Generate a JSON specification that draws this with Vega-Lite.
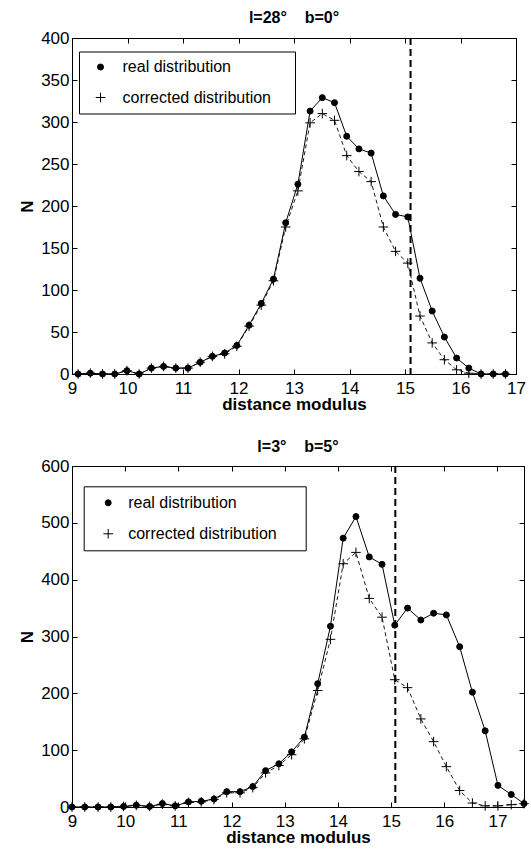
{
  "$schema": "https://vega.github.io/schema/vega-lite/v6.json",
  "background": "white",
  "padding": {"left": 18, "top": 9, "right": 5, "bottom": 1},
  "config": {
    "font": "Liberation Sans",
    "view": {"stroke": "black", "strokeWidth": 1},
    "axis": {"grid": false, "domainColor": "black", "domainWidth": 1, "tickColor": "black", "tickSize": -5, "labelColor": "black", "titleColor": "black", "labelFont": "Liberation Sans", "labelFontSize": 17, "titleFont": "Liberation Sans", "titleFontSize": 17, "titleFontWeight": "bold"},
    "title": {"font": "Liberation Sans", "fontSize": 16, "fontWeight": "bold", "color": "black"},
    "legend": {"titleFontSize": 10, "titleColor": "white"}
  },
  "datasets": {
    "top": [
      {"x": 9.11, "n": 0, "series": "real distribution"},
      {"x": 9.33, "n": 1, "series": "real distribution"},
      {"x": 9.55, "n": 0, "series": "real distribution"},
      {"x": 9.77, "n": 0, "series": "real distribution"},
      {"x": 9.99, "n": 4, "series": "real distribution"},
      {"x": 10.21, "n": 0, "series": "real distribution"},
      {"x": 10.43, "n": 7, "series": "real distribution"},
      {"x": 10.65, "n": 9, "series": "real distribution"},
      {"x": 10.87, "n": 7, "series": "real distribution"},
      {"x": 11.09, "n": 7, "series": "real distribution"},
      {"x": 11.31, "n": 14, "series": "real distribution"},
      {"x": 11.53, "n": 21, "series": "real distribution"},
      {"x": 11.75, "n": 25, "series": "real distribution"},
      {"x": 11.97, "n": 34, "series": "real distribution"},
      {"x": 12.19, "n": 58, "series": "real distribution"},
      {"x": 12.41, "n": 84, "series": "real distribution"},
      {"x": 12.63, "n": 113, "series": "real distribution"},
      {"x": 12.85, "n": 180, "series": "real distribution"},
      {"x": 13.07, "n": 226, "series": "real distribution"},
      {"x": 13.29, "n": 313, "series": "real distribution"},
      {"x": 13.51, "n": 329, "series": "real distribution"},
      {"x": 13.73, "n": 323, "series": "real distribution"},
      {"x": 13.95, "n": 283, "series": "real distribution"},
      {"x": 14.17, "n": 268, "series": "real distribution"},
      {"x": 14.39, "n": 263, "series": "real distribution"},
      {"x": 14.61, "n": 212, "series": "real distribution"},
      {"x": 14.83, "n": 190, "series": "real distribution"},
      {"x": 15.05, "n": 187, "series": "real distribution"},
      {"x": 15.27, "n": 114, "series": "real distribution"},
      {"x": 15.49, "n": 75, "series": "real distribution"},
      {"x": 15.71, "n": 44, "series": "real distribution"},
      {"x": 15.93, "n": 19, "series": "real distribution"},
      {"x": 16.15, "n": 7, "series": "real distribution"},
      {"x": 16.37, "n": 0, "series": "real distribution"},
      {"x": 16.59, "n": 0, "series": "real distribution"},
      {"x": 16.81, "n": 0, "series": "real distribution"},
      {"x": 9.11, "n": 0, "series": "corrected distribution"},
      {"x": 9.33, "n": 1, "series": "corrected distribution"},
      {"x": 9.55, "n": 0, "series": "corrected distribution"},
      {"x": 9.77, "n": 0, "series": "corrected distribution"},
      {"x": 9.99, "n": 4, "series": "corrected distribution"},
      {"x": 10.21, "n": 0, "series": "corrected distribution"},
      {"x": 10.43, "n": 7, "series": "corrected distribution"},
      {"x": 10.65, "n": 9, "series": "corrected distribution"},
      {"x": 10.87, "n": 7, "series": "corrected distribution"},
      {"x": 11.09, "n": 7, "series": "corrected distribution"},
      {"x": 11.31, "n": 14, "series": "corrected distribution"},
      {"x": 11.53, "n": 21, "series": "corrected distribution"},
      {"x": 11.75, "n": 24, "series": "corrected distribution"},
      {"x": 11.97, "n": 33, "series": "corrected distribution"},
      {"x": 12.19, "n": 57, "series": "corrected distribution"},
      {"x": 12.41, "n": 82, "series": "corrected distribution"},
      {"x": 12.63, "n": 111, "series": "corrected distribution"},
      {"x": 12.85, "n": 175, "series": "corrected distribution"},
      {"x": 13.07, "n": 218, "series": "corrected distribution"},
      {"x": 13.29, "n": 299, "series": "corrected distribution"},
      {"x": 13.51, "n": 310, "series": "corrected distribution"},
      {"x": 13.73, "n": 302, "series": "corrected distribution"},
      {"x": 13.95, "n": 260, "series": "corrected distribution"},
      {"x": 14.17, "n": 241, "series": "corrected distribution"},
      {"x": 14.39, "n": 229, "series": "corrected distribution"},
      {"x": 14.61, "n": 175, "series": "corrected distribution"},
      {"x": 14.83, "n": 146, "series": "corrected distribution"},
      {"x": 15.05, "n": 132, "series": "corrected distribution"},
      {"x": 15.27, "n": 69, "series": "corrected distribution"},
      {"x": 15.49, "n": 37, "series": "corrected distribution"},
      {"x": 15.71, "n": 17, "series": "corrected distribution"},
      {"x": 15.93, "n": 5, "series": "corrected distribution"},
      {"x": 16.15, "n": 1, "series": "corrected distribution"},
      {"x": 16.37, "n": 0, "series": "corrected distribution"},
      {"x": 16.59, "n": 0, "series": "corrected distribution"},
      {"x": 16.81, "n": 0, "series": "corrected distribution"}
    ],
    "bottom": [
      {"x": 9.00, "n": 0, "series": "real distribution"},
      {"x": 9.24, "n": 0, "series": "real distribution"},
      {"x": 9.49, "n": 0, "series": "real distribution"},
      {"x": 9.73, "n": 0, "series": "real distribution"},
      {"x": 9.97, "n": 1, "series": "real distribution"},
      {"x": 10.21, "n": 3, "series": "real distribution"},
      {"x": 10.46, "n": 1, "series": "real distribution"},
      {"x": 10.70, "n": 6, "series": "real distribution"},
      {"x": 10.94, "n": 2, "series": "real distribution"},
      {"x": 11.19, "n": 9, "series": "real distribution"},
      {"x": 11.43, "n": 10, "series": "real distribution"},
      {"x": 11.67, "n": 14, "series": "real distribution"},
      {"x": 11.91, "n": 27, "series": "real distribution"},
      {"x": 12.16, "n": 27, "series": "real distribution"},
      {"x": 12.40, "n": 36, "series": "real distribution"},
      {"x": 12.64, "n": 64, "series": "real distribution"},
      {"x": 12.89, "n": 76, "series": "real distribution"},
      {"x": 13.13, "n": 97, "series": "real distribution"},
      {"x": 13.37, "n": 123, "series": "real distribution"},
      {"x": 13.62, "n": 217, "series": "real distribution"},
      {"x": 13.86, "n": 318, "series": "real distribution"},
      {"x": 14.10, "n": 473, "series": "real distribution"},
      {"x": 14.34, "n": 511, "series": "real distribution"},
      {"x": 14.59, "n": 440, "series": "real distribution"},
      {"x": 14.83, "n": 427, "series": "real distribution"},
      {"x": 15.07, "n": 320, "series": "real distribution"},
      {"x": 15.31, "n": 350, "series": "real distribution"},
      {"x": 15.56, "n": 329, "series": "real distribution"},
      {"x": 15.80, "n": 341, "series": "real distribution"},
      {"x": 16.04, "n": 338, "series": "real distribution"},
      {"x": 16.29, "n": 282, "series": "real distribution"},
      {"x": 16.53, "n": 202, "series": "real distribution"},
      {"x": 16.77, "n": 134, "series": "real distribution"},
      {"x": 17.01, "n": 38, "series": "real distribution"},
      {"x": 17.26, "n": 22, "series": "real distribution"},
      {"x": 17.50, "n": 6, "series": "real distribution"},
      {"x": 9.00, "n": 0, "series": "corrected distribution"},
      {"x": 9.24, "n": 0, "series": "corrected distribution"},
      {"x": 9.49, "n": 0, "series": "corrected distribution"},
      {"x": 9.73, "n": 0, "series": "corrected distribution"},
      {"x": 9.97, "n": 1, "series": "corrected distribution"},
      {"x": 10.21, "n": 3, "series": "corrected distribution"},
      {"x": 10.46, "n": 1, "series": "corrected distribution"},
      {"x": 10.70, "n": 5, "series": "corrected distribution"},
      {"x": 10.94, "n": 2, "series": "corrected distribution"},
      {"x": 11.19, "n": 8, "series": "corrected distribution"},
      {"x": 11.43, "n": 9, "series": "corrected distribution"},
      {"x": 11.67, "n": 13, "series": "corrected distribution"},
      {"x": 11.91, "n": 25, "series": "corrected distribution"},
      {"x": 12.16, "n": 25, "series": "corrected distribution"},
      {"x": 12.40, "n": 34, "series": "corrected distribution"},
      {"x": 12.64, "n": 60, "series": "corrected distribution"},
      {"x": 12.89, "n": 73, "series": "corrected distribution"},
      {"x": 13.13, "n": 92, "series": "corrected distribution"},
      {"x": 13.37, "n": 120, "series": "corrected distribution"},
      {"x": 13.62, "n": 205, "series": "corrected distribution"},
      {"x": 13.86, "n": 295, "series": "corrected distribution"},
      {"x": 14.10, "n": 428, "series": "corrected distribution"},
      {"x": 14.34, "n": 448, "series": "corrected distribution"},
      {"x": 14.59, "n": 367, "series": "corrected distribution"},
      {"x": 14.83, "n": 334, "series": "corrected distribution"},
      {"x": 15.07, "n": 224, "series": "corrected distribution"},
      {"x": 15.31, "n": 210, "series": "corrected distribution"},
      {"x": 15.56, "n": 155, "series": "corrected distribution"},
      {"x": 15.80, "n": 115, "series": "corrected distribution"},
      {"x": 16.04, "n": 71, "series": "corrected distribution"},
      {"x": 16.29, "n": 29, "series": "corrected distribution"},
      {"x": 16.53, "n": 7, "series": "corrected distribution"},
      {"x": 16.77, "n": 2, "series": "corrected distribution"},
      {"x": 17.01, "n": 2, "series": "corrected distribution"},
      {"x": 17.26, "n": 4, "series": "corrected distribution"},
      {"x": 17.50, "n": 6, "series": "corrected distribution"}
    ]
  },
  "spacing": 25,
  "resolve": {"scale": {"shape": "independent", "fill": "independent", "stroke": "independent", "x": "independent", "y": "independent"}, "legend": {"shape": "independent", "fill": "independent", "stroke": "independent"}},
  "vconcat": [
    {
      "title": {"text": "l=28°\u00a0\u00a0\u00a0\u00a0b=0°", "offset": 3},
      "width": 444,
      "height": 336,
      "data": {"name": "top"},
      "resolve": {"axis": {"x": "independent", "y": "independent"}},
      "layer": [
        {
          "transform": [{"filter": "datum.series == 'real distribution'"}],
          "mark": {"type": "line", "color": "black", "strokeWidth": 1},
          "encoding": {
            "x": {"field": "x", "type": "quantitative", "scale": {"domain": [9, 17], "nice": false, "zero": false}, "axis": {"orient": "bottom", "title": "distance modulus", "values": [9, 10, 11, 12, 13, 14, 15, 16, 17], "labelPadding": 11.5, "titlePadding": 0, "labelFlush": false}},
            "y": {"field": "n", "type": "quantitative", "scale": {"domain": [0, 400], "nice": false}, "axis": {"orient": "left", "title": "N", "values": [0, 50, 100, 150, 200, 250, 300, 350, 400], "labelPadding": 8, "titlePadding": 4, "labelFlush": false}}
          }
        },
        {
          "transform": [{"filter": "datum.series == 'corrected distribution'"}],
          "mark": {"type": "line", "color": "black", "strokeWidth": 0.9, "strokeDash": [4, 3]},
          "encoding": {
            "x": {"field": "x", "type": "quantitative", "axis": {"orient": "top", "title": null, "labels": false, "values": [9, 10, 11, 12, 13, 14, 15, 16, 17]}},
            "y": {"field": "n", "type": "quantitative", "axis": {"orient": "right", "title": null, "labels": false, "values": [0, 50, 100, 150, 200, 250, 300, 350, 400]}}
          }
        },
        {
          "data": {"values": [{"m": 15.1}]},
          "mark": {"type": "rule", "color": "black", "strokeWidth": 2, "strokeDash": [7, 4]},
          "encoding": {"x": {"field": "m", "type": "quantitative", "axis": null}}
        },
        {
          "mark": {"type": "point", "filled": true, "strokeWidth": 1, "opacity": 1, "size": 36},
          "encoding": {
            "x": {"field": "x", "type": "quantitative", "axis": null},
            "y": {"field": "n", "type": "quantitative", "axis": null},
            "shape": {"field": "series", "type": "nominal", "scale": {"domain": ["real distribution", "corrected distribution"], "range": ["circle", "M-1.6,0L1.6,0M0,-1.6L0,1.6"]},
              "legend": {"title": "\u00a0", "titleOrient": "right", "titlePadding": 16, "orient": "none", "legendX": 7, "legendY": 13.5, "strokeColor": "black", "fillColor": "white", "padding": 7.5, "symbolOffset": 6, "labelOffset": 14, "rowPadding": 14.5, "symbolStrokeWidth": 1, "symbolSize": 36, "labelFont": "Liberation Sans", "labelFontSize": 16, "labelColor": "black"}},
            "fill": {"field": "series", "type": "nominal", "scale": {"domain": ["real distribution", "corrected distribution"], "range": ["black", "transparent"]},
              "legend": {"title": "\u00a0", "titleOrient": "right", "titlePadding": 16, "orient": "none", "legendX": 7, "legendY": 13.5, "strokeColor": "black", "fillColor": "white", "padding": 7.5, "symbolOffset": 6, "labelOffset": 14, "rowPadding": 14.5, "symbolStrokeWidth": 1, "symbolSize": 36, "labelFont": "Liberation Sans", "labelFontSize": 16, "labelColor": "black"}},
            "stroke": {"field": "series", "type": "nominal", "scale": {"domain": ["real distribution", "corrected distribution"], "range": ["black", "black"]},
              "legend": {"title": "\u00a0", "titleOrient": "right", "titlePadding": 16, "orient": "none", "legendX": 7, "legendY": 13.5, "strokeColor": "black", "fillColor": "white", "padding": 7.5, "symbolOffset": 6, "labelOffset": 14, "rowPadding": 14.5, "symbolStrokeWidth": 1, "symbolSize": 36, "labelFont": "Liberation Sans", "labelFontSize": 16, "labelColor": "black"}}
          }
        }
      ]
    },
    {
      "title": {"text": "l=3°\u00a0\u00a0\u00a0\u00a0b=5°", "offset": 2},
      "width": 452,
      "height": 341,
      "data": {"name": "bottom"},
      "resolve": {"axis": {"x": "independent", "y": "independent"}},
      "layer": [
        {
          "transform": [{"filter": "datum.series == 'real distribution'"}],
          "mark": {"type": "line", "color": "black", "strokeWidth": 1},
          "encoding": {
            "x": {"field": "x", "type": "quantitative", "scale": {"domain": [9, 17.5], "nice": false, "zero": false}, "axis": {"orient": "bottom", "title": "distance modulus", "values": [9, 10, 11, 12, 13, 14, 15, 16, 17], "labelPadding": 11.5, "titlePadding": 0, "labelFlush": false}},
            "y": {"field": "n", "type": "quantitative", "scale": {"domain": [0, 600], "nice": false}, "axis": {"orient": "left", "title": "N", "values": [0, 100, 200, 300, 400, 500, 600], "labelPadding": 8, "titlePadding": 4, "labelFlush": false}}
          }
        },
        {
          "transform": [{"filter": "datum.series == 'corrected distribution'"}],
          "mark": {"type": "line", "color": "black", "strokeWidth": 0.9, "strokeDash": [4, 3]},
          "encoding": {
            "x": {"field": "x", "type": "quantitative", "axis": {"orient": "top", "title": null, "labels": false, "values": [9, 10, 11, 12, 13, 14, 15, 16, 17]}},
            "y": {"field": "n", "type": "quantitative", "axis": {"orient": "right", "title": null, "labels": false, "values": [0, 100, 200, 300, 400, 500, 600]}}
          }
        },
        {
          "data": {"values": [{"m": 15.08}]},
          "mark": {"type": "rule", "color": "black", "strokeWidth": 2, "strokeDash": [7, 4]},
          "encoding": {"x": {"field": "m", "type": "quantitative", "axis": null}}
        },
        {
          "mark": {"type": "point", "filled": true, "strokeWidth": 1, "opacity": 1, "size": 36},
          "encoding": {
            "x": {"field": "x", "type": "quantitative", "axis": null},
            "y": {"field": "n", "type": "quantitative", "axis": null},
            "shape": {"field": "series", "type": "nominal", "scale": {"domain": ["real distribution", "corrected distribution"], "range": ["circle", "M-1.6,0L1.6,0M0,-1.6L0,1.6"]},
              "legend": {"title": "\u00a0", "titleOrient": "right", "titlePadding": 20, "orient": "none", "legendX": 11.7, "legendY": 20.3, "strokeColor": "black", "fillColor": "white", "padding": 8.5, "symbolOffset": 8, "labelOffset": 12, "rowPadding": 15, "symbolStrokeWidth": 1, "symbolSize": 36, "labelFont": "Liberation Sans", "labelFontSize": 16, "labelColor": "black"}},
            "fill": {"field": "series", "type": "nominal", "scale": {"domain": ["real distribution", "corrected distribution"], "range": ["black", "transparent"]},
              "legend": {"title": "\u00a0", "titleOrient": "right", "titlePadding": 20, "orient": "none", "legendX": 11.7, "legendY": 20.3, "strokeColor": "black", "fillColor": "white", "padding": 8.5, "symbolOffset": 8, "labelOffset": 12, "rowPadding": 15, "symbolStrokeWidth": 1, "symbolSize": 36, "labelFont": "Liberation Sans", "labelFontSize": 16, "labelColor": "black"}},
            "stroke": {"field": "series", "type": "nominal", "scale": {"domain": ["real distribution", "corrected distribution"], "range": ["black", "black"]},
              "legend": {"title": "\u00a0", "titleOrient": "right", "titlePadding": 20, "orient": "none", "legendX": 11.7, "legendY": 20.3, "strokeColor": "black", "fillColor": "white", "padding": 8.5, "symbolOffset": 8, "labelOffset": 12, "rowPadding": 15, "symbolStrokeWidth": 1, "symbolSize": 36, "labelFont": "Liberation Sans", "labelFontSize": 16, "labelColor": "black"}}
          }
        }
      ]
    }
  ]
}
